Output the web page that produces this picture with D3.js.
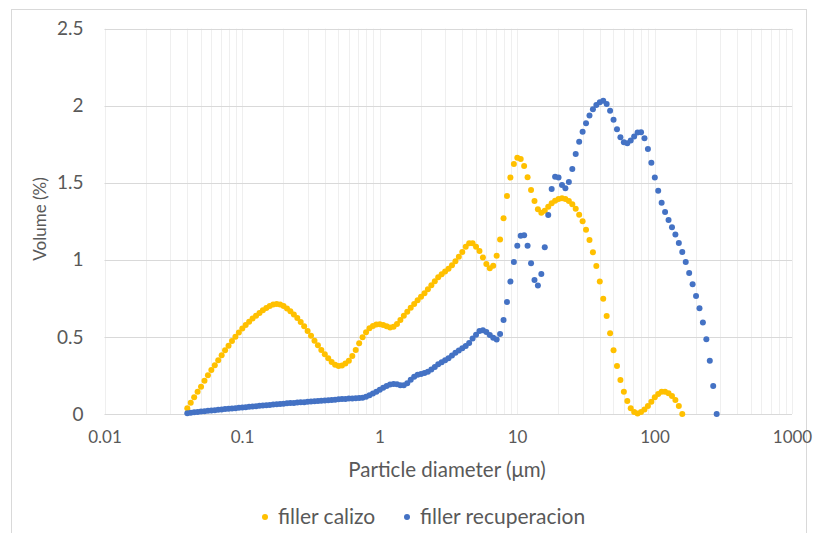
<!DOCTYPE html>
<html>
<head>
<meta charset="utf-8">
<script src="https://cdn.jsdelivr.net/npm/d3@7/dist/d3.min.js"></script>
<style>
  html, body { margin: 0; padding: 0; background: #ffffff; }
  svg { display: block; }
  text { font-family: Lato, "Open Sans", sans-serif; fill: #595959; }
</style>
</head>
<body>
<script>
// Instrument size classes (µm), 40 classes per decade starting at 0.04 µm
const diameters = [
  0.04, 0.04237, 0.04488, 0.04754, 0.05036, 0.05334, 0.0565, 0.05985, 0.0634, 0.06715,
  0.07113, 0.07534, 0.07981, 0.08454, 0.08955, 0.09486, 0.1005, 0.1064, 0.1127, 0.1194,
  0.1265, 0.134, 0.1419, 0.1503, 0.1592, 0.1687, 0.1787, 0.1893, 0.2005, 0.2124,
  0.2249, 0.2383, 0.2524, 0.2673, 0.2832, 0.3, 0.3177, 0.3366, 0.3565, 0.3776,
  0.4, 0.4237, 0.4488, 0.4754, 0.5036, 0.5334, 0.565, 0.5985, 0.634, 0.6715,
  0.7113, 0.7534, 0.7981, 0.8454, 0.8955, 0.9486, 1.005, 1.064, 1.127, 1.194,
  1.265, 1.34, 1.419, 1.503, 1.592, 1.687, 1.787, 1.893, 2.005, 2.124,
  2.249, 2.383, 2.524, 2.673, 2.832, 3.0, 3.177, 3.366, 3.565, 3.776,
  4.0, 4.237, 4.488, 4.754, 5.036, 5.334, 5.65, 5.985, 6.34, 6.715,
  7.113, 7.534, 7.981, 8.454, 8.955, 9.486, 10.05, 10.64, 11.27, 11.94,
  12.65, 13.4, 14.19, 15.03, 15.92, 16.87, 17.87, 18.93, 20.05, 21.24,
  22.49, 23.83, 25.24, 26.73, 28.32, 30.0, 31.77, 33.66, 35.65, 37.76,
  40.0, 42.37, 44.88, 47.54, 50.36, 53.34, 56.5, 59.85, 63.4, 67.15,
  71.13, 75.34, 79.81, 84.54, 89.55, 94.86, 100.5, 106.4, 112.7, 119.4,
  126.5, 134.0, 141.9, 150.3, 159.2, 168.7, 178.7, 189.3, 200.5, 212.4,
  224.9, 238.3, 252.4, 267.3, 283.2
];

// Volume (%) per size class — filler calizo
const fillerCalizo = [
  0.037, 0.073, 0.108, 0.145, 0.177, 0.216, 0.251, 0.286, 0.316, 0.348,
  0.381, 0.413, 0.443, 0.474, 0.502, 0.528, 0.554, 0.578, 0.599, 0.619,
  0.638, 0.655, 0.673, 0.688, 0.701, 0.710, 0.714, 0.710, 0.700, 0.685,
  0.667, 0.646, 0.623, 0.597, 0.569, 0.539, 0.508, 0.476, 0.446, 0.415,
  0.387, 0.361, 0.337, 0.320, 0.311, 0.314, 0.327, 0.346, 0.376, 0.415,
  0.459, 0.498, 0.530, 0.556, 0.571, 0.580, 0.582, 0.578, 0.569, 0.562,
  0.566, 0.584, 0.610, 0.638, 0.664, 0.690, 0.714, 0.738, 0.761, 0.783,
  0.809, 0.835, 0.861, 0.887, 0.906, 0.924, 0.943, 0.965, 0.991, 1.021,
  1.051, 1.086, 1.108, 1.108, 1.086, 1.058, 1.015, 0.973, 0.945, 0.962,
  1.026, 1.133, 1.270, 1.415, 1.534, 1.622, 1.663, 1.655, 1.609, 1.536,
  1.454, 1.382, 1.328, 1.306, 1.319, 1.345, 1.367, 1.384, 1.395, 1.400,
  1.395, 1.382, 1.361, 1.332, 1.293, 1.250, 1.196, 1.129, 1.049, 0.960,
  0.859, 0.748, 0.636, 0.524, 0.413, 0.311, 0.221, 0.145, 0.084, 0.037,
  0.013, 0.004, 0.013, 0.030, 0.052, 0.080, 0.108, 0.130, 0.145, 0.145,
  0.134, 0.117, 0.091, 0.052, 0.0
];

// Volume (%) per size class — filler recuperacion
const fillerRecuperacion = [
  0.005, 0.008, 0.011, 0.013, 0.016, 0.018, 0.021, 0.023, 0.025, 0.027,
  0.030, 0.032, 0.034, 0.036, 0.038, 0.040, 0.042, 0.044, 0.047, 0.049,
  0.051, 0.053, 0.055, 0.057, 0.059, 0.061, 0.063, 0.065, 0.067, 0.069,
  0.071, 0.072, 0.074, 0.076, 0.077, 0.079, 0.081, 0.083, 0.085, 0.086,
  0.088, 0.090, 0.091, 0.093, 0.095, 0.097, 0.098, 0.100, 0.101, 0.102,
  0.104, 0.106, 0.112, 0.122, 0.133, 0.145, 0.157, 0.170, 0.182, 0.191,
  0.195, 0.193, 0.186, 0.187, 0.200, 0.222, 0.242, 0.254, 0.260, 0.266,
  0.274, 0.288, 0.305, 0.322, 0.335, 0.348, 0.362, 0.380, 0.397, 0.412,
  0.426, 0.442, 0.460, 0.490, 0.515, 0.538, 0.543, 0.532, 0.512, 0.495,
  0.483, 0.519, 0.610, 0.727, 0.859, 0.986, 1.092, 1.157, 1.159, 1.092,
  0.978, 0.870, 0.833, 0.909, 1.082, 1.291, 1.460, 1.540, 1.534, 1.486,
  1.464, 1.506, 1.590, 1.687, 1.767, 1.832, 1.886, 1.936, 1.977, 2.005,
  2.022, 2.033, 2.012, 1.968, 1.910, 1.847, 1.795, 1.763, 1.756, 1.774,
  1.800, 1.826, 1.828, 1.789, 1.720, 1.631, 1.534, 1.449, 1.371, 1.311,
  1.259, 1.211, 1.164, 1.110, 1.051, 0.986, 0.915, 0.842, 0.766, 0.686,
  0.593, 0.485, 0.346, 0.182, 0.0
];

const seriesNames = ["filler calizo", "filler recuperacion"];
const seriesColors = ["#FFC000", "#4472C4"];

const xTickValues = [0.01, 0.1, 1, 10, 100, 1000];
const xTickLabels = ["0.01", "0.1", "1", "10", "100", "1000"];
const yTickValues = [0, 0.5, 1, 1.5, 2, 2.5];
const yTickLabels = ["0", "0.5", "1", "1.5", "2", "2.5"];

const width = 816, height = 533;
const plot = { left: 104.5, right: 792, top: 28.7, bottom: 414 };

const svg = d3.select("body").append("svg")
  .attr("width", width).attr("height", height);

svg.append("rect").attr("width", width).attr("height", height).attr("fill", "#ffffff");
// chart frame (continues past the bottom edge)
svg.append("rect")
  .attr("x", 11.5).attr("y", 9.5).attr("width", 795).attr("height", 540)
  .attr("fill", "none").attr("stroke", "#d9d9d9").attr("stroke-width", 1);

const x = d3.scaleLog().domain([0.01, 1000]).range([plot.left, plot.right]);
const y = d3.scaleLinear().domain([0, 2.5]).range([plot.bottom, plot.top]);

// vertical grid (major + minor log lines)
const grid = svg.append("g");
grid.selectAll("line.vgrid")
  .data(x.ticks())
  .join("line")
  .attr("class", "vgrid")
  .attr("x1", d => Math.round(x(d)) + 0.5).attr("x2", d => Math.round(x(d)) + 0.5)
  .attr("y1", plot.top).attr("y2", plot.bottom)
  .attr("stroke", "#efefef").attr("stroke-width", 1);

// horizontal grid
grid.selectAll("line.hgrid")
  .data(yTickValues)
  .join("line")
  .attr("class", "hgrid")
  .attr("x1", plot.left).attr("x2", plot.right)
  .attr("y1", d => Math.round(y(d)) + 0.5).attr("y2", d => Math.round(y(d)) + 0.5)
  .attr("stroke", "#d9d9d9").attr("stroke-width", 1);

// axes
const xAxis = d3.axisBottom(x)
  .tickValues(xTickValues)
  .tickFormat((d, i) => xTickLabels[i])
  .tickSize(0).tickPadding(17);
const gx = svg.append("g").attr("transform", `translate(0,${plot.bottom})`).call(xAxis);
gx.select(".domain").remove();
gx.selectAll("text").style("font-size", "17px").attr("fill", "#595959")
  .style("font-family", "Lato, 'Open Sans', sans-serif");

const yAxis = d3.axisLeft(y)
  .tickValues(yTickValues)
  .tickFormat((d, i) => yTickLabels[i])
  .tickSize(0).tickPadding(21);
const gy = svg.append("g").attr("transform", `translate(${plot.left},0)`).call(yAxis);
gy.select(".domain").remove();
gy.selectAll("text").style("font-size", "19px").attr("fill", "#595959")
  .style("font-family", "Lato, 'Open Sans', sans-serif");

// axis titles
svg.append("text")
  .attr("x", 447).attr("y", 477)
  .attr("text-anchor", "middle").style("font-size", "20.5px")
  .text("Particle diameter (μm)");
svg.append("text")
  .attr("transform", `translate(46,219) rotate(-90)`)
  .attr("text-anchor", "middle").style("font-size", "17px")
  .text("Volume (%)");

// scatter series
const series = [fillerCalizo, fillerRecuperacion];
series.forEach((vals, s) => {
  svg.append("g")
    .selectAll("circle")
    .data(vals.map((v, i) => [diameters[i], v]))
    .join("circle")
    .attr("cx", d => x(d[0]))
    .attr("cy", d => y(d[1]))
    .attr("r", 3)
    .attr("fill", seriesColors[s]);
});

// legend
const legend = svg.append("g").attr("transform", "translate(0,517)");
const legendX = [265, 407];
seriesNames.forEach((name, s) => {
  legend.append("circle").attr("cx", legendX[s]).attr("cy", 0).attr("r", 3)
    .attr("fill", seriesColors[s]);
  legend.append("text").attr("x", legendX[s] + 13).attr("y", 6.5)
    .style("font-size", "21px").text(name);
});
</script>
</body>
</html>
